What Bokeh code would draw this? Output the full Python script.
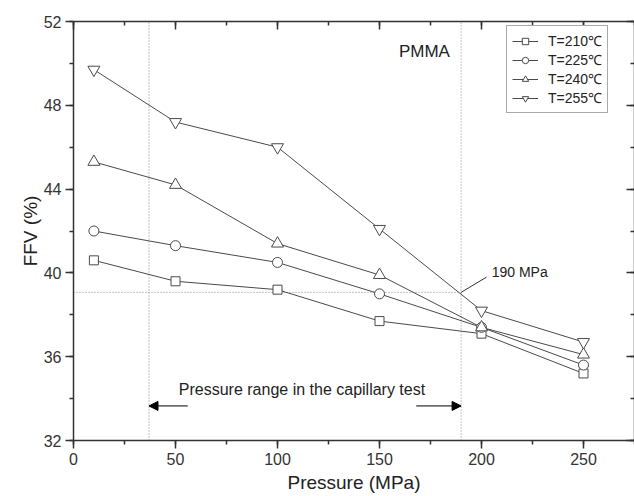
from bokeh.plotting import figure
from bokeh.models import (Range1d, LinearAxis, SingleIntervalTicker, Arrow, NormalHead,
                          Legend, CustomJSTickFormatter)
from bokeh.core.properties import value
from bokeh.embed import file_html
from bokeh.resources import INLINE

# ---- data ----
pressure = [10, 50, 100, 150, 200, 250]
ffv_210 = [40.6, 39.6, 39.2, 37.7, 37.1, 35.2]
ffv_225 = [42.0, 41.3, 40.5, 39.0, 37.4, 35.6]
ffv_240 = [45.3, 44.2, 41.4, 39.9, 37.4, 36.1]
ffv_255 = [49.7, 47.2, 46.0, 42.1, 38.2, 36.7]
series_labels = ["T=210\u2103", "T=225\u2103", "T=240\u2103", "T=255\u2103"]

vline_x = [37, 190]
hline_y = 39.07
range_text = "Pressure range in the capillary test"
range_text_pos = (112, 34.45)
arrow_y = 33.65
left_arrow = (56, 37)
right_arrow = (168, 190)
note_text = "190 MPa"
note_pos = (205, 40.05)
note_leader_x = [190, 202.5]
note_leader_y = [39.07, 39.8]
title_text = "PMMA"
title_pos = (172, 50.55)

FONT = "Liberation Sans"
LINE = "#4a4a4a"
AX = "#333333"

W, H = 634, 496
p = figure(width=W, height=H, output_backend="svg", toolbar_location=None,
           x_range=Range1d(0, 275), y_range=Range1d(32, 52),
           min_border_left=73, min_border_right=0, min_border_top=21, min_border_bottom=56)
p.outline_line_color = None
p.xgrid.visible = False
p.ygrid.visible = False
p.background_fill_color = "white"

def style_axis(ax, labels=True, inward=False):
    ax.axis_line_color = AX
    ax.axis_line_width = 1.5
    ax.major_tick_line_color = AX
    ax.minor_tick_line_color = AX
    ax.major_tick_line_width = 1.5
    ax.minor_tick_line_width = 1.5
    if inward:
        ax.major_tick_in, ax.major_tick_out = 8, 0
        ax.minor_tick_in, ax.minor_tick_out = 4, 0
    else:
        ax.major_tick_in, ax.major_tick_out = 0, 8
        ax.minor_tick_in, ax.minor_tick_out = 0, 4
    ax.major_label_text_font = FONT
    if labels:
        ax.major_label_text_color = AX
        ax.major_label_text_font_size = "16px"
        ax.major_label_standoff = 4
    else:
        ax.formatter = CustomJSTickFormatter(code="return '';")
        ax.major_label_text_color = None
        ax.major_label_standoff = 0
    ax.axis_label_text_font = FONT
    ax.axis_label_text_font_style = "normal"
    ax.axis_label_text_font_size = "19px"
    ax.axis_label_text_color = "#222222"

p.xaxis.ticker = SingleIntervalTicker(interval=50, num_minor_ticks=2)
p.yaxis.ticker = SingleIntervalTicker(interval=4, num_minor_ticks=2)
style_axis(p.xaxis[0])
style_axis(p.yaxis[0])
p.xaxis.axis_label = "Pressure (MPa)"
p.yaxis.axis_label = "FFV (%)"
p.xaxis.axis_label_standoff = 4
p.yaxis.axis_label_standoff = 0

top = LinearAxis(ticker=SingleIntervalTicker(interval=50, num_minor_ticks=2))
right = LinearAxis(ticker=SingleIntervalTicker(interval=4, num_minor_ticks=2))
style_axis(top, labels=False, inward=True)
style_axis(right, labels=False, inward=True)
p.add_layout(top, "above")
p.add_layout(right, "right")

# dotted guides
p.segment(x0=vline_x, y0=[32, 32], x1=vline_x, y1=[52, 52],
          line_color="#8a8a8a", line_dash="1 2", line_width=1)
p.segment(x0=[0], y0=[hline_y], x1=[vline_x[1]], y1=[hline_y],
          line_color="#8a8a8a", line_dash="1 2", line_width=1)

series = [ffv_210, ffv_225, ffv_240, ffv_255]
markers = ["square", "circle", "triangle", "inverted_triangle"]
sizes = [9, 10, 12, 12]
items = []
line_rs = []
for ys in series:
    line_rs.append(p.line(pressure, ys, line_color=LINE, line_width=1))
for i, ys in enumerate(series):
    sr = p.scatter(pressure, ys, marker=markers[i], size=sizes[i],
                   fill_color="white", line_color=LINE, line_width=1)
    items.append((series_labels[i], [line_rs[i], sr]))

legend = Legend(items=items, location=(433, 327))
legend.label_text_font = FONT
legend.label_text_font_size = "14px"
legend.label_text_color = "#222222"
legend.glyph_width = 26
legend.glyph_height = 16
legend.label_height = 16
legend.label_standoff = 10
legend.spacing = 0
legend.padding = 5
legend.margin = 0
legend.border_line_color = "#555555"
legend.border_line_width = 1
legend.background_fill_alpha = 1
p.add_layout(legend, "center")

# arrows
p.add_layout(Arrow(end=NormalHead(size=9, fill_color="black", line_color="black"),
                   x_start=left_arrow[0], y_start=arrow_y, x_end=left_arrow[1], y_end=arrow_y,
                   line_color="black", line_width=1))
p.add_layout(Arrow(end=NormalHead(size=9, fill_color="black", line_color="black"),
                   x_start=right_arrow[0], y_start=arrow_y, x_end=right_arrow[1], y_end=arrow_y,
                   line_color="black", line_width=1))

# leader line for 190 MPa
p.line(note_leader_x, note_leader_y, line_color="#333333", line_width=1)

p.text(x=[range_text_pos[0]], y=[range_text_pos[1]], text=[range_text],
       text_font=value(FONT), text_font_size="16px", text_color="#222222",
       text_align="center", text_baseline="middle")
p.text(x=[note_pos[0]], y=[note_pos[1]], text=[note_text],
       text_font=value(FONT), text_font_size="14px", text_color="#222222",
       text_align="left", text_baseline="middle")
p.text(x=[title_pos[0]], y=[title_pos[1]], text=[title_text],
       text_font=value(FONT), text_font_size="17px", text_color="#222222",
       text_align="center", text_baseline="middle")

open("out.html", "w").write(file_html(p, INLINE))
